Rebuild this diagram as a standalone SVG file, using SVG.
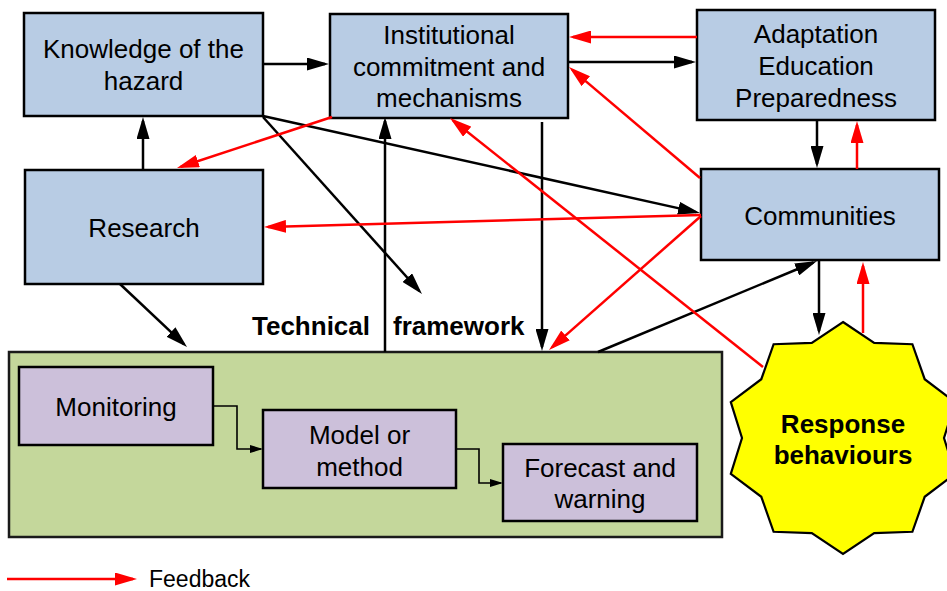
<svg xmlns="http://www.w3.org/2000/svg" width="947" height="591" viewBox="0 0 947 591">
  <defs>
    <style>
      .box { fill: #b8cce4; stroke: #000; stroke-width: 2.5; }
      .sub { fill: #ccc0da; stroke: #000; stroke-width: 2.5; }
      .frame { fill: #c4d79b; stroke: #1a1a1a; stroke-width: 2.5; }
      .star { fill: #ffff00; stroke: #000; stroke-width: 2.2; stroke-linejoin: miter; }
      .lbl { font-family: "Liberation Sans", Arial, sans-serif; font-size: 26px; fill: #000; text-anchor: middle; }
      .start { text-anchor: start; }
      .bold { font-weight: bold; }
      .link { fill: none; stroke: #000; stroke-width: 2.5; marker-end: url(#arrowBlack); }
      .fb { fill: none; stroke: #ff0000; stroke-width: 2.5; marker-end: url(#arrowRed); }
      .step { fill: none; stroke: #000; stroke-width: 1.6; marker-end: url(#arrowSmall); }
    </style>
    <marker id="arrowBlack" viewBox="0 0 22 13" markerUnits="userSpaceOnUse" markerWidth="22" markerHeight="13" refX="18" refY="6.5" orient="auto">
      <path d="M0,0 L22,6.5 L0,13 z" fill="#000"/>
    </marker>
    <marker id="arrowRed" viewBox="0 0 22 13" markerUnits="userSpaceOnUse" markerWidth="22" markerHeight="13" refX="18" refY="6.5" orient="auto">
      <path d="M0,0 L22,6.5 L0,13 z" fill="#ff0000"/>
    </marker>
    <marker id="arrowSmall" viewBox="0 0 13 8" markerUnits="userSpaceOnUse" markerWidth="13" markerHeight="8" refX="11" refY="4" orient="auto">
      <path d="M0,0 L13,4 L0,8 z" fill="#000"/>
    </marker>
  </defs>

  <rect width="947" height="591" fill="#ffffff"/>

  <!-- technical framework container -->
  <g id="technical-framework">
    <rect class="frame" x="9" y="352" width="713" height="185"/>
    <text class="lbl bold start" x="252" y="335">Technical</text>
    <text class="lbl bold start" x="393" y="335">framework</text>
  </g>

  <g id="monitoring">
    <rect class="sub" x="19" y="367" width="194" height="78"/>
    <text class="lbl" x="116" y="416">Monitoring</text>
  </g>

  <g id="model-method">
    <rect class="sub" x="263" y="410" width="193" height="78"/>
    <text class="lbl" x="359.5" y="444">Model or</text>
    <text class="lbl" x="359.5" y="475.5">method</text>
  </g>

  <g id="forecast-warning">
    <rect class="sub" x="503" y="444" width="194" height="77"/>
    <text class="lbl" x="600" y="476.5">Forecast and</text>
    <text class="lbl" x="600" y="508">warning</text>
  </g>

  <g id="knowledge">
    <rect class="box" x="24" y="13" width="239" height="103"/>
    <text class="lbl" x="143.5" y="58">Knowledge of the</text>
    <text class="lbl" x="143.5" y="89.5">hazard</text>
  </g>

  <g id="institutional">
    <rect class="box" x="330" y="14" width="238" height="104"/>
    <text class="lbl" x="449" y="44">Institutional</text>
    <text class="lbl" x="449" y="75.5">commitment and</text>
    <text class="lbl" x="449" y="107">mechanisms</text>
  </g>

  <g id="adaptation">
    <rect class="box" x="697" y="10" width="238" height="110"/>
    <text class="lbl" x="816" y="43">Adaptation</text>
    <text class="lbl" x="816" y="75">Education</text>
    <text class="lbl" x="816" y="107">Preparedness</text>
  </g>

  <g id="research">
    <rect class="box" x="25" y="170" width="238" height="114"/>
    <text class="lbl" x="144" y="237">Research</text>
  </g>

  <g id="communities">
    <rect class="box" x="701" y="169" width="238" height="91"/>
    <text class="lbl" x="820" y="225">Communities</text>
  </g>

  <g id="response-behaviours">
    <polygon class="star" points="843,322 874.2,342.9 912.4,344.2 924.7,379.2 955.2,402.2 944,438 955.2,473.8 924.7,496.8 912.4,531.8 874.2,533.1 843,554 811.8,533.1 773.6,531.8 761.3,496.8 730.8,473.8 742,438 730.8,402.2 761.3,379.2 773.6,344.2 811.8,342.9"/>
    <text class="lbl bold" x="843" y="432.5">Response</text>
    <text class="lbl bold" x="843" y="464">behaviours</text>
  </g>

  <g id="connectors">
    <!-- main flows -->
    <line class="link" x1="263" y1="64" x2="325" y2="64"/>
    <line class="link" x1="143" y1="170" x2="143" y2="121"/>
    <line class="link" x1="263" y1="116" x2="696.1" y2="212.1"/>
    <line class="link" x1="263" y1="117" x2="419.3" y2="291"/>
    <line class="link" x1="385" y1="352" x2="385" y2="121"/>
    <line class="link" x1="542" y1="122" x2="542" y2="347"/>
    <line class="link" x1="568" y1="62" x2="692" y2="62"/>
    <line class="link" x1="817" y1="120" x2="817" y2="164"/>
    <line class="link" x1="598" y1="352" x2="813.3" y2="262.5"/>
    <line class="link" x1="819" y1="260" x2="819" y2="331"/>
    <line class="link" x1="120" y1="284" x2="184.1" y2="344.3"/>

    <!-- feedback flows -->
    <line class="fb" x1="332" y1="117" x2="180.8" y2="166.8"/>
    <line class="fb" x1="697" y1="37" x2="573" y2="37"/>
    <line class="fb" x1="700" y1="178" x2="572.1" y2="69.6"/>
    <line class="fb" x1="857" y1="169" x2="857" y2="125"/>
    <line class="fb" x1="701" y1="215" x2="268" y2="226.9"/>
    <line class="fb" x1="701" y1="216" x2="552" y2="347.4"/>
    <line class="fb" x1="763" y1="367" x2="453.1" y2="120.5"/>
    <line class="fb" x1="863" y1="333" x2="863" y2="266"/>

    <!-- technical chain -->
    <path class="step" d="M213,406 H237 V449 H261"/>
    <path class="step" d="M456,449 H479 V483 H501"/>
  </g>

  <g id="legend">
    <line class="fb" x1="7" y1="579" x2="133" y2="579"/>
    <text class="lbl start" x="149" y="587" style="font-size:23px">Feedback</text>
  </g>
</svg>
